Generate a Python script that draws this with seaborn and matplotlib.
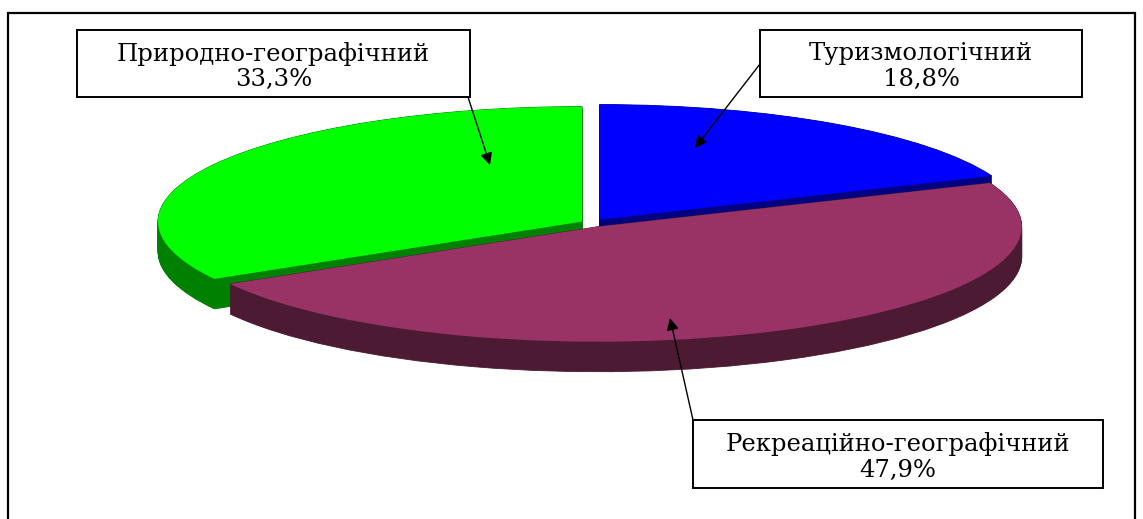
import matplotlib
matplotlib.use("Agg")
import matplotlib.pyplot as plt
import numpy as np
import seaborn as sns
from matplotlib.patches import Rectangle

# data
labels = ["Туризмологічний", "Рекреаційно-географічний", "Природно-географічний"]
shares = [18.8, 47.9, 33.3]
pct_text = ["18,8%", "47,9%", "33,3%"]

top_colors = ["#0000FF", "#993366", "#00FF00"]
side_colors = ["#000080", "#4D1A33", "#008000"]
explode = [0.036, 0.036, 0.0245]

sns.set_style("white")
plt.rcParams["font.family"] = ["DejaVu Serif", "DejaVu Sans"]

W, H = 1143, 519
fig = plt.figure(figsize=(W / 100, H / 100), dpi=100)
ax = fig.add_axes([0, 0, 1, 1])

# pixel geometry of the tilted pie (center, radii, thickness)
cx, cy, rx, ry, depth_px = 591, 223, 424, 115, 30
depth = depth_px / ry

# side walls: stack of darker pies pushed down
for d in np.linspace(depth, 0, depth_px + 1):
    wedges, _ = ax.pie(shares, colors=side_colors, startangle=90, counterclock=False,
                       explode=explode, center=(0, -d), frame=False,
                       wedgeprops=dict(linewidth=0.6))
    for w, c in zip(wedges, side_colors):
        w.set_edgecolor(c)
    wedges[1].set_zorder(2)
    wedges[0].set_zorder(1)
    wedges[2].set_zorder(1)

# top face
wedges, _ = ax.pie(shares, colors=top_colors, startangle=90, counterclock=False,
                   explode=explode, frame=False, wedgeprops=dict(linewidth=0))
for w in wedges:
    w.set_zorder(3)

ax.set_aspect("auto")
ax.set_xlim(-cx / rx, (W - cx) / rx)
ax.set_ylim(-(H - cy) / ry, cy / ry)
ax.axis("off")


def px(x, y):
    return x / W, 1 - y / H


def to_data(x, y):
    return (x - cx) / rx, (cy - y) / ry


# outer frame (runs off the bottom)
fig.patches.append(Rectangle(px(8, 560), (1135 - 8) / W, (560 - 13) / H,
                             transform=fig.transFigure, fill=False,
                             edgecolor="black", linewidth=1.6, zorder=0))

# callout boxes: (left, top, right, bottom), arrow start, arrow tip
boxes = [
    ((760, 30, 1082, 97), (760, 64), (695, 148)),
    ((693, 420, 1103, 488), (693, 420), (670, 318)),
    ((77, 30, 470, 97), (468, 97), (490, 165)),
]

for (box, start, tip), name, pct in zip(boxes, labels, pct_text):
    l, t, r, b = box
    fig.patches.append(Rectangle(px(l, b), (r - l) / W, (b - t) / H,
                                 transform=fig.transFigure, facecolor="white",
                                 edgecolor="black", linewidth=1.4, zorder=5))
    fig.text((l + r) / 2 / W, 1 - ((t + b) / 2 + 3) / H, name + "\n" + pct,
             ha="center", va="center", fontsize=17.5, linespacing=1.15,
             color="black", zorder=6)
    ax.annotate("", xy=to_data(*tip), xycoords="data",
                xytext=px(*start), textcoords="figure fraction",
                arrowprops=dict(arrowstyle="-|>", color="black", lw=1.0,
                                mutation_scale=18, shrinkA=0, shrinkB=0),
                zorder=7)

fig.savefig("out.png", dpi=100)
